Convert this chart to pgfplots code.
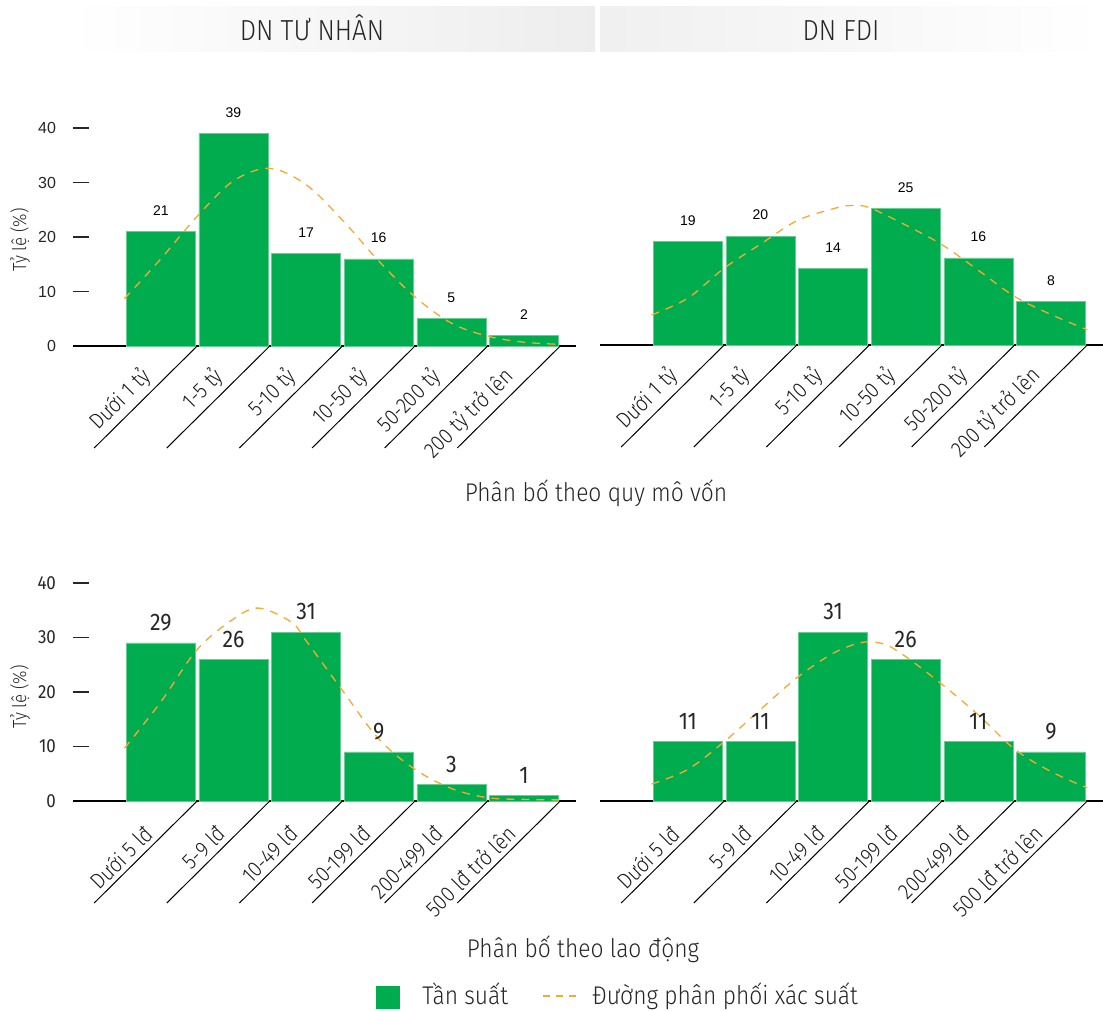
\documentclass[border=0pt]{standalone}
\usepackage{pgfplots}
\pgfplotsset{compat=1.18}
\usepackage{fontspec}
\setmainfont{Fira Sans}[UprightFont=* Light, FakeStretch=0.89]
\newfontfamily\numfont{Liberation Sans}
\newfontfamily\valfont{Fira Sans}[FakeStretch=0.89]

\definecolor{bargreen}{RGB}{0,172,78}
\definecolor{curveorange}{RGB}{247,170,48}
\definecolor{bandgray}{RGB}{218,219,222}

\pgfplotsset{
  /pgf/number format/assume math mode=true,
  panel/.style={
    scale only axis, width=251.25pt, height=109pt,
    xmin=-1.21, xmax=5.71, ymin=0, ymax=40,
    clip=false,
    axis x line*=bottom,
    x axis line style={-, black, line width=0.65pt},
    xtick={0.5,1.5,2.5,3.5,4.5,5.5},
    major x tick style={draw=none},
    xticklabel style={font=\fontsize{11}{13}\selectfont, text=black!90,
      anchor=south east, inner sep=1pt, xshift=-19.5pt, yshift=-17.5pt, rotate=45},
  },
  leftpanel/.style={panel,
    axis y line*=left, y axis line style={draw=none},
    ytick={0,10,20,30,40}, tick align=inside, major tick length=8pt,
    major y tick style={black!85, line width=0.6pt},
    yticklabel style={anchor=east, xshift=-5pt, text=black!85},
  },
  rightpanel/.style={panel, axis y line=none, ytick=\empty},
  bars/.style={ybar, bar width=0.95, fill=bargreen, draw=bargreen!60!white,
    line width=0.3pt, nodes near coords},
  topvals/.style={every node near coord/.append style={
      font=\numfont\fontsize{7}{8}\selectfont, anchor=south, yshift=4.5pt}},
  botvals/.style={every node near coord/.append style={
      font=\valfont\fontsize{12}{14}\selectfont, text=black!85, anchor=south, yshift=2.5pt}},
  fitline/.style={curveorange, line width=0.65pt, dash pattern=on 4pt off 3.5pt,
    smooth, tension=0.55},
}

\newcommand{\cuts}{\pgfplotsinvokeforeach{0.5,1.5,2.5,3.5,4.5,5.5}{%
  \draw[black, line width=0.5pt] (axis cs:##1,0) -- ++(-51.5pt,-51pt);}}

\begin{document}
\begin{tikzpicture}
\useasboundingbox (0,0) rectangle (551.5pt,-505.5pt);

% header bands
\shade[left color=white, middle color=bandgray, right color=black!7] (34pt,-3.5pt) rectangle (297.5pt,-26pt);
\shade[left color=black!6, middle color=bandgray, right color=white] (300pt,-3.5pt) rectangle (551.5pt,-26pt);
\node[anchor=base, font=\fontsize{14.5}{16}\selectfont, text=black!85] at (156pt,-20.5pt) {DN TƯ NHÂN};
\node[anchor=base, font=\fontsize{14.5}{16}\selectfont, text=black!85] at (420.5pt,-20.5pt) {DN FDI};

% capital size, private firms
\begin{axis}[leftpanel, at={(36.5pt,-173pt)}, anchor=south west,
  yticklabel style={font=\numfont\fontsize{8}{9}\selectfont},
  xticklabels={Dưới 1 tỷ,1-5 tỷ,5-10 tỷ,10-50 tỷ,50-200 tỷ,200 tỷ trở lên}]
\addplot[bars, topvals] coordinates {(0,21) (1,39) (2,17) (3,16) (4,5) (5,2)};
\addplot[fitline] coordinates {(-0.5,8.7) (0,16) (0.5,23.8) (1,30.3) (1.5,32.6) (2,29.6)
  (2.5,23.1) (3,15.6) (3.5,9.0) (4,4.2) (4.5,1.8) (5,0.7) (5.5,0.3)};
\cuts
\end{axis}

% capital size, FDI firms
\begin{axis}[rightpanel, at={(300pt,-172.5pt)}, anchor=south west,
  xticklabels={Dưới 1 tỷ,1-5 tỷ,5-10 tỷ,10-50 tỷ,50-200 tỷ,200 tỷ trở lên}]
\addplot[bars, topvals] coordinates {(0,19) (1,20) (2,14) (3,25) (4,16) (5,8)};
\addplot[fitline] coordinates {(-0.5,5.5) (0,8.6) (0.5,14.1) (1,18.5) (1.5,22.8) (2,25.0)
  (2.25,25.6) (2.5,25.2) (3,22.0) (3.5,18.4) (4,13.7) (4.5,8.9) (5,5.6) (5.5,2.8)};
\cuts
\end{axis}

% labour size, private firms
\begin{axis}[leftpanel, at={(36.5pt,-400.5pt)}, anchor=south west,
  yticklabel style={font=\valfont\fontsize{9.5}{11}\selectfont},
  xticklabels={Dưới 5 lđ,5-9 lđ,10-49 lđ,50-199 lđ,200-499 lđ,500 lđ trở lên}]
\addplot[bars, botvals] coordinates {(0,29) (1,26) (2,31) (3,9) (4,3) (5,1)};
\addplot[fitline] coordinates {(-0.5,9.7) (0,18.2) (0.5,27.8) (1,33.4) (1.35,35.4) (1.8,32.8)
  (2,29.4) (2.5,20.3) (3,11.4) (3.5,5.8) (4,2.3) (4.5,0.6) (5,0.3) (5.5,0.2)};
\cuts
\end{axis}

% labour size, FDI firms
\begin{axis}[rightpanel, at={(300pt,-400.5pt)}, anchor=south west,
  xticklabels={Dưới 5 lđ,5-9 lđ,10-49 lđ,50-199 lđ,200-499 lđ,500 lđ trở lên}]
\addplot[bars, botvals] coordinates {(0,11) (1,11) (2,31) (3,26) (4,11) (5,9)};
\addplot[fitline] coordinates {(-0.5,3.1) (0,5.8) (0.5,10.9) (1,16.8) (1.5,22.6) (2,27.1)
  (2.4,29.1) (2.7,28.8) (3,26.5) (3.5,21.4) (4,15.8) (4.5,9.5) (5,5.4) (5.5,2.4)};
\cuts
\end{axis}

% axis titles
\node[rotate=90, font=\fontsize{9.5}{11}\selectfont, text=black!85] at (10pt,-120pt) {Tỷ lệ (\%)};
\node[rotate=90, font=\fontsize{9.5}{11}\selectfont, text=black!85] at (10pt,-348.5pt) {Tỷ lệ (\%)};
\node[anchor=base, font=\fontsize{12.8}{15}\selectfont, text=black!85] at (298pt,-250.5pt) {Phân bố theo quy mô vốn};
\node[anchor=base, font=\fontsize{12.8}{15}\selectfont, text=black!85] at (291.5pt,-478.5pt) {Phân bố theo lao động};

% legend
\fill[bargreen] (188pt,-493pt) rectangle (200pt,-504.5pt);
\node[anchor=base west, inner sep=0pt, font=\fontsize{12.8}{15}\selectfont, text=black!85] at (211pt,-502pt) {Tần suất};
\draw[curveorange, line width=0.65pt, dash pattern=on 3.5pt off 3pt] (271.5pt,-498pt) -- (288pt,-498pt);
\node[anchor=base west, inner sep=0pt, font=\fontsize{12.8}{15}\selectfont, text=black!85] at (296pt,-502pt) {Đường phân phối xác suất};
\end{tikzpicture}
\end{document}
